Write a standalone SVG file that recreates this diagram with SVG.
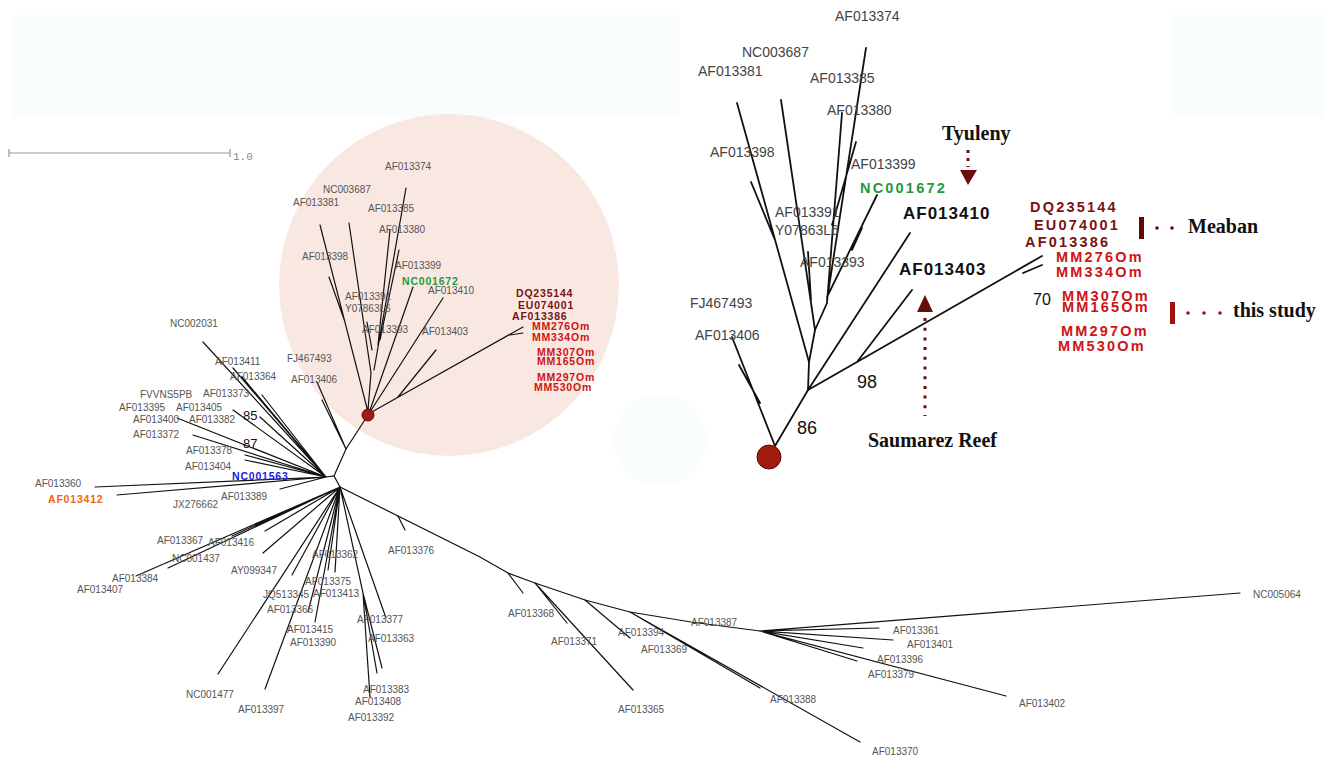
<svg xmlns="http://www.w3.org/2000/svg" width="1331" height="758" viewBox="0 0 1331 758">
<style>
.br{stroke:#111;stroke-width:1.2;fill:none;stroke-linecap:round}
.bi{stroke:#111;stroke-width:1.8;fill:none;stroke-linecap:round}
.lb{font-family:"Liberation Sans",Arial,sans-serif;font-size:10px;fill:#555}
.li{font-family:"Liberation Sans",Arial,sans-serif;font-size:14px;fill:#444}
.bm{font-family:"Liberation Sans",Arial,sans-serif;font-size:10.5px;font-weight:bold;letter-spacing:0.8px}
.bb{font-family:"Liberation Sans",Arial,sans-serif;font-size:14.5px;font-weight:bold;letter-spacing:2.2px}
.num{font-family:"Liberation Sans",Arial,sans-serif;fill:#111}
.tt{font-family:"Liberation Serif","Times New Roman",serif;font-weight:bold;font-size:20px;fill:#111}
.dk{fill:#7a1212}
.rd{fill:#cc1414}
.bg{fill:#f9fdfe}
</style>
<rect width="1331" height="758" fill="#ffffff"/>
<g id="background">
<rect class="bg" x="12" y="15" width="668" height="103"/>
<rect class="bg" x="1170" y="15" width="155" height="103"/>
<circle class="bg" cx="660" cy="440" r="46"/>
<ellipse cx="449" cy="285" rx="170" ry="171" fill="#f9e8e2"/>
</g>
<g id="scale-bar">
<path d="M9,153 H230 M9,149 V157 M230,149 V157" stroke="#999" stroke-width="1.2" fill="none"/>
<text x="233" y="160" font-family="Liberation Mono,monospace" font-size="11" fill="#888">1.0</text>
</g>
<g id="connectors">
<path class="br" d="M326,477 L334,476 L340,487 M334,476 L346,449 L368,415"/>
<path class="br" d="M346,449 L317,382 M346,449 L322,400"/>
<path class="br" d="M326,477 L203,342 M326,477 L233,368 M326,477 L242,377 M326,477 L262,395 M326,477 L233,410 M326,477 L260,417 M326,477 L177,418 M326,477 L193,435 M326,477 L245,455 M326,477 L245,460 M326,477 L95,487 M326,477 L117,495 M326,477 L280,489"/>
<path class="br" d="M340,487 L136,576 M340,487 L168,568 M340,487 L232,536 M340,487 L265,531 M340,487 L263,553 M340,487 L292,575 M340,487 L218,674 M340,487 L265,689 M340,487 L315,622 M340,487 L308,612 M340,487 L328,570 M340,487 L335,572 M340,487 L320,565"/>
<path class="br" d="M340,487 L363,593 L370,697 M363,593 L377,673 M363,593 L382,668 M340,487 L386,618"/>
<path class="br" d="M340,487 L480,557 L508,573 L535,583 L585,600 L630,612 L691,622 L760,631"/>
<path class="br" d="M398,516 L405,530 M508,573 L523,593 M535,583 L567,623 M535,583 L633,690 M585,600 L630,638 M630,612 L760,688 M630,612 L860,742"/>
<path class="br" d="M760,631 L1240,593 M760,631 L879,628 M760,631 L893,640 M760,631 L863,648 M760,631 L857,661 M760,631 L1006,696"/>
<path class="br" d="M368,412 L320,225 M329,277 L345,322 M371,373 L349,223 M371,373 L368,410 M374,370 L406,188 M378,345 L390,230 M380,340 L399,250 M370,410 L413,287 M367,322 L372,350 M370,412 L443,298 M398,397 L436,350 M370,413 L523,327 M510,335 L523,333"/>
<path class="bi" d="M775,446 L808,390 M775,446 L732,337 M760,403 L739,365 M808,390 L809,362 L815,330"/>
<path class="bi" d="M809,362 L737,103 M775,240 L751,182 M815,330 L781,100 M811,300 L808,252 M815,330 L827,303 L842,113 M827,300 L866,48 M832,225 L856,142 M827,297 L877,195 M852,250 L862,228"/>
<path class="bi" d="M808,390 L910,233 M808,390 L857,362 L1042,256 M1023,273 L1042,265 M857,362 L912,290"/>
</g>
<g id="root-main"><circle cx="368" cy="415" r="6" fill="#a31a10" stroke="#5e0a0a" stroke-width="1"/></g>
<g id="root-inset"><circle cx="769" cy="457" r="12" fill="#a31a10" stroke="#5e0a0a" stroke-width="1"/></g>
<g id="labels-left">
<text class="lb" x="170" y="327">NC002031</text>
<text class="lb" x="215" y="365">AF013411</text>
<text class="lb" x="230" y="380">AF013364</text>
<text class="lb" x="287" y="362">FJ467493</text>
<text class="lb" x="291" y="383">AF013406</text>
<text class="lb" x="140" y="398">FVVNS5PB</text>
<text class="lb" x="203" y="397">AF013373</text>
<text class="lb" x="119" y="411">AF013395</text>
<text class="lb" x="176" y="411">AF013405</text>
<text class="lb" x="133" y="423">AF013400</text>
<text class="lb" x="189" y="423">AF013382</text>
<text class="lb" x="133" y="438">AF013372</text>
<text class="lb" x="186" y="454">AF013378</text>
<text class="lb" x="185" y="470">AF013404</text>
<text class="lb" x="35" y="487">AF013360</text>
<text class="lb" x="221" y="500">AF013389</text>
<text class="lb" x="173" y="508">JX276662</text>
<text class="num" x="243" y="420" font-size="13">85</text>
<text class="num" x="243" y="448" font-size="13">87</text>
<text class="bm" x="232" y="480" fill="#1a1ae0">NC001563</text>
<text class="bm" x="48" y="503" fill="#f06414">AF013412</text>
</g>
<g id="labels-bottom">
<text class="lb" x="157" y="544">AF013367</text>
<text class="lb" x="208" y="546">AF013416</text>
<text class="lb" x="172" y="562">NC001437</text>
<text class="lb" x="231" y="574">AY099347</text>
<text class="lb" x="112" y="582">AF013384</text>
<text class="lb" x="77" y="593">AF013407</text>
<text class="lb" x="312" y="558">AF013362</text>
<text class="lb" x="305" y="585">AF013375</text>
<text class="lb" x="313" y="597">AF013413</text>
<text class="lb" x="263" y="598">JQ513345</text>
<text class="lb" x="267" y="613">AF013366</text>
<text class="lb" x="287" y="633">AF013415</text>
<text class="lb" x="290" y="646">AF013390</text>
<text class="lb" x="357" y="623">AF013377</text>
<text class="lb" x="368" y="642">AF013363</text>
<text class="lb" x="363" y="693">AF013383</text>
<text class="lb" x="355" y="705">AF013408</text>
<text class="lb" x="348" y="721">AF013392</text>
<text class="lb" x="186" y="698">NC001477</text>
<text class="lb" x="238" y="713">AF013397</text>
<text class="lb" x="388" y="554">AF013376</text>
<text class="lb" x="508" y="617">AF013368</text>
<text class="lb" x="551" y="645">AF013371</text>
<text class="lb" x="618" y="713">AF013365</text>
<text class="lb" x="618" y="636">AF013394</text>
<text class="lb" x="641" y="653">AF013369</text>
<text class="lb" x="691" y="626">AF013387</text>
<text class="lb" x="770" y="703">AF013388</text>
<text class="lb" x="872" y="755">AF013370</text>
<text class="lb" x="1253" y="598">NC005064</text>
<text class="lb" x="893" y="634">AF013361</text>
<text class="lb" x="907" y="648">AF013401</text>
<text class="lb" x="877" y="663">AF013396</text>
<text class="lb" x="868" y="678">AF013379</text>
<text class="lb" x="1019" y="707">AF013402</text>
</g>
<g id="labels-clade">
<text class="lb" x="385" y="170">AF013374</text>
<text class="lb" x="323" y="193">NC003687</text>
<text class="lb" x="293" y="206">AF013381</text>
<text class="lb" x="368" y="212">AF013385</text>
<text class="lb" x="379" y="233">AF013380</text>
<text class="lb" x="302" y="260">AF013398</text>
<text class="lb" x="395" y="269">AF013399</text>
<text class="lb" x="428" y="294">AF013410</text>
<text class="lb" x="345" y="300">AF013391</text>
<text class="lb" x="345" y="312">Y07863L6</text>
<text class="lb" x="362" y="333">AF013393</text>
<text class="lb" x="422" y="335">AF013403</text>
<text class="bm" x="402" y="285" fill="#1e9a3c">NC001672</text>
<text class="bm dk" x="516" y="297">DQ235144</text>
<text class="bm dk" x="518" y="309">EU074001</text>
<text class="bm dk" x="512" y="320">AF013386</text>
<text class="bm rd" x="532" y="330">MM276Om</text>
<text class="bm rd" x="532" y="341">MM334Om</text>
<text class="bm rd" x="537" y="356">MM307Om</text>
<text class="bm rd" x="537" y="365">MM165Om</text>
<text class="bm rd" x="537" y="381">MM297Om</text>
<text class="bm rd" x="534" y="391">MM530Om</text>
</g>
<g id="labels-inset">
<text class="li" x="835" y="21">AF013374</text>
<text class="li" x="742" y="57">NC003687</text>
<text class="li" x="698" y="76">AF013381</text>
<text class="li" x="810" y="83">AF013385</text>
<text class="li" x="827" y="115">AF013380</text>
<text class="li" x="710" y="157">AF013398</text>
<text class="li" x="851" y="169">AF013399</text>
<text class="li" x="775" y="217">AF013391</text>
<text class="li" x="775" y="235">Y07863L6</text>
<text class="li" x="800" y="267">AF013393</text>
<text class="li" x="690" y="308">FJ467493</text>
<text class="li" x="695" y="340">AF013406</text>
<text class="bb" x="860" y="193" fill="#1e9a3c">NC001672</text>
<text x="903" y="219" font-family="Liberation Sans,Arial,sans-serif" font-size="17" font-weight="bold" letter-spacing="1" fill="#111">AF013410</text>
<text x="899" y="275" font-family="Liberation Sans,Arial,sans-serif" font-size="17" font-weight="bold" letter-spacing="1" fill="#111">AF013403</text>
<text class="bb dk" x="1030" y="212">DQ235144</text>
<text class="bb dk" x="1034" y="230">EU074001</text>
<text class="bb dk" x="1025" y="247">AF013386</text>
<text class="bb rd" x="1056" y="262">MM276Om</text>
<text class="bb rd" x="1056" y="277">MM334Om</text>
<text class="bb rd" x="1062" y="301">MM307Om</text>
<text class="bb rd" x="1062" y="312">MM165Om</text>
<text class="bb rd" x="1061" y="336">MM297Om</text>
<text class="bb rd" x="1058" y="351">MM530Om</text>
<text class="num" x="797" y="434" font-size="18">86</text>
<text class="num" x="857" y="388" font-size="18">98</text>
<text class="num" x="1033" y="305" font-size="16">70</text>
</g>
<g id="annotation-tyuleny">
<path d="M968,150 V167" stroke="#6b0d0d" stroke-width="3" stroke-dasharray="3 5" fill="none"/>
<polygon points="960,170 977,170 968,185" fill="#6b0d0d"/>
<text class="tt" x="942" y="140">Tyuleny</text>
</g>
<g id="annotation-saumarez">
<polygon points="917,312 933,312 925,295" fill="#6b0d0d"/>
<path d="M925,318 V416" stroke="#6b0d0d" stroke-width="3" stroke-dasharray="3 6.7" fill="none"/>
<text class="tt" x="868" y="447">Saumarez Reef</text>
</g>
<g id="annotation-meaban">
<rect x="1139" y="217" width="5" height="22" fill="#5e0a0a"/>
<circle cx="1157" cy="228" r="1.8" fill="#5e0a0a"/>
<circle cx="1172" cy="228" r="1.8" fill="#5e0a0a"/>
<text class="tt" x="1188" y="233">Meaban</text>
</g>
<g id="annotation-this-study">
<rect x="1170" y="302" width="5" height="22" fill="#a01212"/>
<circle cx="1188" cy="313" r="1.8" fill="#a01212"/>
<circle cx="1204" cy="313" r="1.8" fill="#a01212"/>
<circle cx="1220" cy="313" r="1.8" fill="#a01212"/>
<text class="tt" x="1233" y="317">this study</text>
</g>
</svg>
